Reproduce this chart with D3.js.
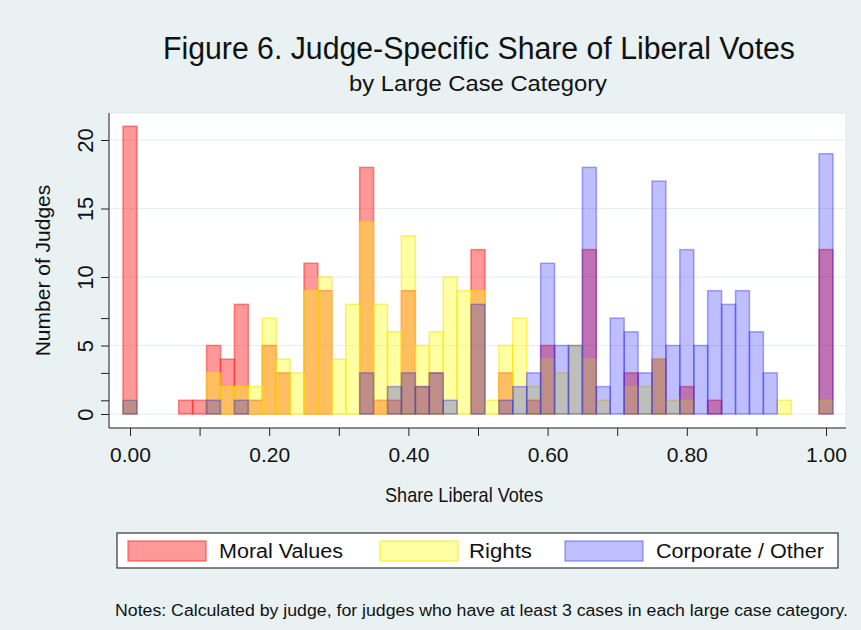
<!DOCTYPE html>
<html>
<head>
<meta charset="utf-8">
<script src="https://cdn.jsdelivr.net/npm/d3@7"></script>
<style>
  body { margin: 0; background: #eaf1f3; }
  svg { display: block; }
</style>
</head>
<body>
<div id="chart"></div>
<script>
// bin centres: 0.00, 0.02, ... 1.00 (bin width 0.02)
const BIN_WIDTH = 0.02;
const BINS = d3.range(0, 51).map(i => +(i * BIN_WIDTH).toFixed(2));

const MORAL = [21,0,0,0,1,1,5,4,8,1, 5,3,0,11,9,0,0,18,1,1, 9,2,3,0,0,12,0,3,0,1,
               5,0,0,12,0,0,3,0,4,0, 2,0,1,0,0,0,0,0,0,0, 12];
const RIGHTS = [1,0,0,0,0,0,3,2,2,2, 7,4,3,9,10,4,8,14,8,6, 13,5,6,10,9,9,1,5,7,2,
                4,3,5,4,1,0,2,2,4,1, 1,0,0,0,0,0,0,1,0,0, 1];
const CORPORATE = [1,0,0,0,0,0,1,0,1,0, 0,0,0,0,0,0,0,3,0,2, 3,2,3,1,0,8,0,1,2,3,
                   11,5,5,18,2,7,6,3,17,5, 12,5,9,8,9,6,3,0,0,0, 19];

const SERIES_NAMES = ["Moral Values", "Rights", "Corporate / Other"];
const X_TICKS = [0, 0.1, 0.2, 0.3, 0.4, 0.5, 0.6, 0.7, 0.8, 0.9, 1.0];
const X_LABELS = [0, 0.2, 0.4, 0.6, 0.8, 1.0];
const Y_TICKS = [0, 5, 10, 15, 20];
const Y_MINOR = [1, 3, 7];

const STYLE = [
  { fill: "rgba(255,0,0,0.40)",   stroke: "rgba(255,40,40,0.55)" },
  { fill: "rgba(255,255,0,0.36)", stroke: "rgba(255,225,0,0.55)" },
  { fill: "rgba(0,0,255,0.25)",   stroke: "rgba(40,40,255,0.40)" }
];

const W = 861, H = 630;
const plot = { left: 109, right: 846, top: 113, bottom: 428 };
const FONT = "Arial, 'Liberation Sans', sans-serif";

const svg = d3.select("#chart").append("svg")
  .attr("width", W).attr("height", H)
  .style("font-family", FONT);

svg.append("rect").attr("width", W).attr("height", H).attr("fill", "#eaf1f3");

const x = d3.scaleLinear().domain([0, 1]).range([130, 826]);
const y = d3.scaleLinear().domain([0, 20]).range([414, 140]);

// plot region
svg.append("rect")
  .attr("x", plot.left).attr("y", plot.top)
  .attr("width", plot.right - plot.left).attr("height", plot.bottom - plot.top)
  .attr("fill", "#fff").attr("stroke", "#dfe8ec").attr("stroke-width", 1);

// gridlines
svg.append("g").selectAll("line").data(Y_TICKS).enter().append("line")
  .attr("x1", plot.left).attr("x2", plot.right)
  .attr("y1", d => y(d)).attr("y2", d => y(d))
  .attr("stroke", "#e6eef1").attr("stroke-width", 1.2);

// bars: moral first, then rights, then corporate on top
const seriesData = [MORAL, RIGHTS, CORPORATE];
seriesData.forEach((vals, si) => {
  const rows = BINS.map((b, i) => ({ b, v: vals[i] })).filter(d => d.v > 0);
  svg.append("g").selectAll("rect").data(rows).enter().append("rect")
    .attr("x", d => x(d.b - BIN_WIDTH / 2))
    .attr("width", d => x(d.b + BIN_WIDTH / 2) - x(d.b - BIN_WIDTH / 2))
    .attr("y", d => y(d.v))
    .attr("height", d => y(0) - y(d.v))
    .attr("fill", STYLE[si].fill)
    .attr("stroke", STYLE[si].stroke)
    .attr("stroke-width", 1.5);
});

// y axis
const yAxis = svg.append("g").attr("transform", `translate(${plot.left},0)`)
  .call(d3.axisLeft(y).tickValues(Y_TICKS.concat(Y_MINOR)).tickSize(8).tickPadding(6)
    .tickFormat(d => Y_TICKS.includes(d) ? d : ""));
yAxis.select(".domain").attr("d", `M0,${plot.top}V${plot.bottom}`).attr("stroke", "#222");
yAxis.selectAll(".tick line").attr("stroke", "#222");
yAxis.selectAll(".tick text")
  .attr("transform", "rotate(-90)")
  .attr("x", 0).attr("y", -24).attr("dy", "0.35em")
  .attr("text-anchor", "middle")
  .style("font-size", "22px").style("font-family", FONT).attr("fill", "#111");

// x axis
const xAxis = svg.append("g").attr("transform", `translate(0,${plot.bottom})`)
  .call(d3.axisBottom(x).tickValues(X_TICKS).tickSize(8).tickPadding(11)
    .tickFormat(d => X_LABELS.some(v => Math.abs(v - d) < 1e-9) ? d3.format(".2f")(d) : ""));
xAxis.select(".domain").attr("d", `M${plot.left},0H${plot.right}`).attr("stroke", "#222");
xAxis.selectAll(".tick line").attr("stroke", "#222");
xAxis.selectAll(".tick text")
  .style("font-size", "21px").style("font-family", FONT).attr("fill", "#111");

// axis titles
svg.append("text")
  .attr("transform", `translate(43,${(plot.top + plot.bottom) / 2}) rotate(-90)`)
  .attr("text-anchor", "middle").attr("dy", "0.35em")
  .style("font-size", "21px").attr("fill", "#111")
  .text("Number of Judges");

svg.append("text")
  .attr("x", 464).attr("y", 502)
  .attr("text-anchor", "middle")
  .attr("textLength", 158).attr("lengthAdjust", "spacingAndGlyphs")
  .style("font-size", "21px").attr("fill", "#111")
  .text("Share Liberal Votes");

// titles
svg.append("text")
  .attr("x", 479).attr("y", 59).attr("text-anchor", "middle")
  .attr("textLength", 632).attr("lengthAdjust", "spacingAndGlyphs")
  .style("font-size", "31px").attr("fill", "#111")
  .text("Figure 6. Judge-Specific Share of Liberal Votes");

svg.append("text")
  .attr("x", 478).attr("y", 91).attr("text-anchor", "middle")
  .attr("textLength", 258).attr("lengthAdjust", "spacingAndGlyphs")
  .style("font-size", "22px").attr("fill", "#111")
  .text("by Large Case Category");

// legend
const legend = svg.append("g");
legend.append("rect")
  .attr("x", 117).attr("y", 533).attr("width", 721).attr("height", 35)
  .attr("fill", "#fff").attr("stroke", "#333").attr("stroke-width", 1.2);
const LEG_POS = [
  { sx: 128, tx: 219, len: 124 },
  { sx: 380, tx: 469, len: 63 },
  { sx: 565, tx: 656, len: 168 }
];
SERIES_NAMES.forEach((name, i) => {
  legend.append("rect")
    .attr("x", LEG_POS[i].sx).attr("y", 541).attr("width", 78).attr("height", 20)
    .attr("fill", STYLE[i].fill).attr("stroke", STYLE[i].stroke).attr("stroke-width", 1.5);
  legend.append("text")
    .attr("x", LEG_POS[i].tx).attr("y", 558)
    .attr("textLength", LEG_POS[i].len).attr("lengthAdjust", "spacingAndGlyphs")
    .style("font-size", "20px").attr("fill", "#111")
    .text(name);
});

// note
svg.append("text")
  .attr("x", 115).attr("y", 616)
  .attr("textLength", 733).attr("lengthAdjust", "spacingAndGlyphs")
  .style("font-size", "16px").attr("fill", "#111")
  .text("Notes: Calculated by judge, for judges who have at least 3 cases in each large case category.");
</script>
</body>
</html>
